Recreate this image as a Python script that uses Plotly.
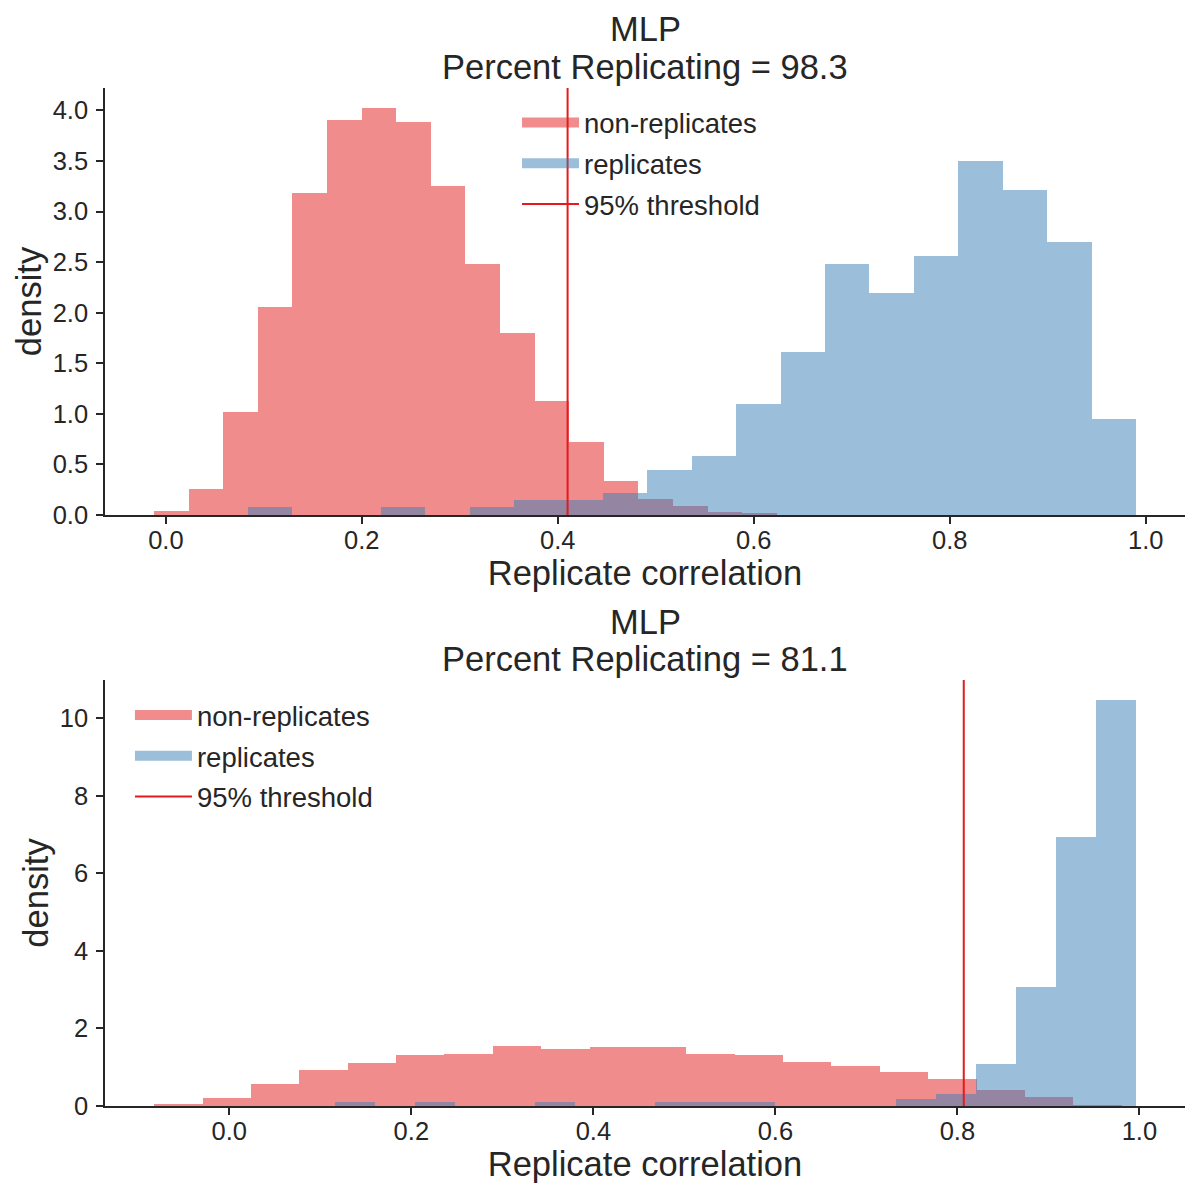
import numpy as np
import plotly.graph_objects as go

# top panel: percent replicating = 98.3
top_null_edges = [-0.012, 0.0233, 0.0586, 0.0939, 0.1292, 0.1645, 0.1998, 0.2351, 0.2704, 0.3057, 0.341,
                  0.3763, 0.4116, 0.4469, 0.4822, 0.5175, 0.5528, 0.5881, 0.6234, 0.6587, 0.694]
top_null_density = [0.04, 0.26, 1.02, 2.06, 3.18, 3.90, 4.02, 3.88, 3.25, 2.48,
                    1.80, 1.125, 0.72, 0.335, 0.158, 0.089, 0.03, 0.016, 0.003, 0.003]
top_rep_edges = [0.0834, 0.1287, 0.174, 0.2194, 0.2647, 0.31, 0.3554, 0.4007, 0.446, 0.4914, 0.5367,
                 0.582, 0.6274, 0.6727, 0.718, 0.7634, 0.8087, 0.854, 0.8994, 0.9447, 0.990]
top_rep_density = [0.08, 0, 0, 0.08, 0, 0.08, 0.15, 0.15, 0.22, 0.44,
                   0.58, 1.10, 1.61, 2.48, 2.19, 2.56, 3.50, 3.21, 2.70, 0.95]
top_threshold = 0.41
top_percent = 98.3

# bottom panel: percent replicating = 81.1
bot_null_edges = [-0.0825, -0.0294, 0.0238, 0.077, 0.1301, 0.1833, 0.2364, 0.2896, 0.3427, 0.3959, 0.449,
                  0.5022, 0.5553, 0.6085, 0.6616, 0.7148, 0.7679, 0.8211, 0.8742, 0.9274, 0.9805]
bot_null_density = [0.043, 0.22, 0.56, 0.92, 1.10, 1.31, 1.33, 1.56, 1.46, 1.51,
                    1.51, 1.33, 1.31, 1.125, 1.02, 0.87, 0.69, 0.41, 0.23, 0.026]
bot_rep_edges = [0.116, 0.16, 0.204, 0.248, 0.292, 0.336, 0.38, 0.424, 0.468, 0.512, 0.556,
                 0.6, 0.644, 0.688, 0.732, 0.776, 0.82, 0.864, 0.908, 0.952, 0.996]
bot_rep_density = [0.094, 0, 0.094, 0, 0, 0.094, 0, 0, 0.094, 0.094,
                   0.094, 0, 0, 0, 0.19, 0.32, 1.08, 3.07, 6.93, 10.46]
bot_threshold = 0.807
bot_percent = 81.1

RED = "rgba(228,26,28,0.5)"
BLUE = "rgba(55,126,184,0.5)"
LINE_RED = "#e41a1c"
TXT = "#262626"
FONT = "Liberation Sans, Arial, sans-serif"

top_yrange = [0, 4.221]
bot_yrange = [0, 10.98]

fig = go.Figure()


def add_hist(edges, dens, color, xa, ya):
    e = np.array(edges)
    fig.add_trace(go.Bar(x=(e[:-1] + e[1:]) / 2, y=dens, width=np.diff(e),
                         marker=dict(color=color, line_width=0),
                         xaxis=xa, yaxis=ya, showlegend=False, hoverinfo="skip"))


def add_legend_entries(thr, yr, xa, ya, leg):
    fig.add_trace(go.Scatter(x=[None], y=[None], mode="lines", name="non-replicates",
                             line=dict(color=RED, width=19), xaxis=xa, yaxis=ya,
                             legend=leg, legendgroup=leg + "a"))
    fig.add_trace(go.Scatter(x=[None], y=[None], mode="lines", name="replicates",
                             line=dict(color=BLUE, width=19), xaxis=xa, yaxis=ya,
                             legend=leg, legendgroup=leg + "b"))
    fig.add_trace(go.Scatter(x=[thr, thr], y=yr, mode="lines", name="95% threshold",
                             line=dict(color=LINE_RED, width=2), xaxis=xa, yaxis=ya,
                             legend=leg, legendgroup=leg + "c", hoverinfo="skip"))


add_hist(top_null_edges, top_null_density, RED, "x", "y")
add_hist(top_rep_edges, top_rep_density, BLUE, "x", "y")
add_legend_entries(top_threshold, top_yrange, "x", "y", "legend")

add_hist(bot_null_edges, bot_null_density, RED, "x2", "y2")
add_hist(bot_rep_edges, bot_rep_density, BLUE, "x2", "y2")
add_legend_entries(bot_threshold, bot_yrange, "x2", "y2", "legend2")

ax_common = dict(ticks="outside", ticklen=7, tickwidth=1.5, tickcolor=TXT,
                 showline=True, linecolor=TXT, linewidth=1.5, mirror=False,
                 showgrid=False, zeroline=False, tickfont=dict(size=25.5, color=TXT),
                 automargin=False)

xt = [0.0, 0.2, 0.4, 0.6, 0.8, 1.0]
xtitle = dict(text="Replicate correlation", font=dict(size=34.5), standoff=7)
ytitle = dict(text="density", font=dict(size=34.5), standoff=1)
leg_common = dict(xanchor="left", yanchor="top", bgcolor="rgba(0,0,0,0)",
                  font=dict(size=27.5, color=TXT), traceorder="grouped",
                  tracegroupgap=2, itemwidth=57)

fig.update_layout(
    width=1192, height=1192,
    margin=dict(l=97, r=15, t=80, b=94),
    paper_bgcolor="white", plot_bgcolor="white",
    font=dict(family=FONT, color=TXT),
    barmode="overlay", bargap=0,
    xaxis=dict(domain=[0, 1], anchor="y", range=[-0.0621, 1.0401], tickvals=xt, tickformat=".1f",
               title=xtitle, ticklabelstandoff=-5, **ax_common),
    yaxis=dict(domain=[0.5806, 1], anchor="x", range=top_yrange, tickvals=[0, 0.5, 1, 1.5, 2, 2.5, 3, 3.5, 4],
               tickformat=".1f", title=ytitle, ticklabelstandoff=3, **ax_common),
    xaxis2=dict(domain=[0, 1], anchor="y2", range=[-0.1366, 1.0501], tickvals=xt, tickformat=".1f",
                title=xtitle, ticklabelstandoff=-5, **ax_common),
    yaxis2=dict(domain=[0, 0.4185], anchor="x2", range=bot_yrange, tickvals=[0, 2, 4, 6, 8, 10],
                title=ytitle, ticklabelstandoff=3, **ax_common),
    legend=dict(x=0.3815, y=0.990, **leg_common),
    legend2=dict(x=0.0231, y=0.408, **leg_common),
)

titles = [
    ("MLP", 1.0575), ("Percent Replicating = %.1f" % top_percent, 1.0206),
    ("MLP", 0.4759), ("Percent Replicating = %.1f" % bot_percent, 0.4391),
]
for txt, yy in titles:
    fig.add_annotation(text=txt, x=0.5, y=yy, xref="paper", yref="paper", xanchor="center",
                       yanchor="middle", showarrow=False, font=dict(size=34.5, color=TXT))

fig.write_html("out.html")
